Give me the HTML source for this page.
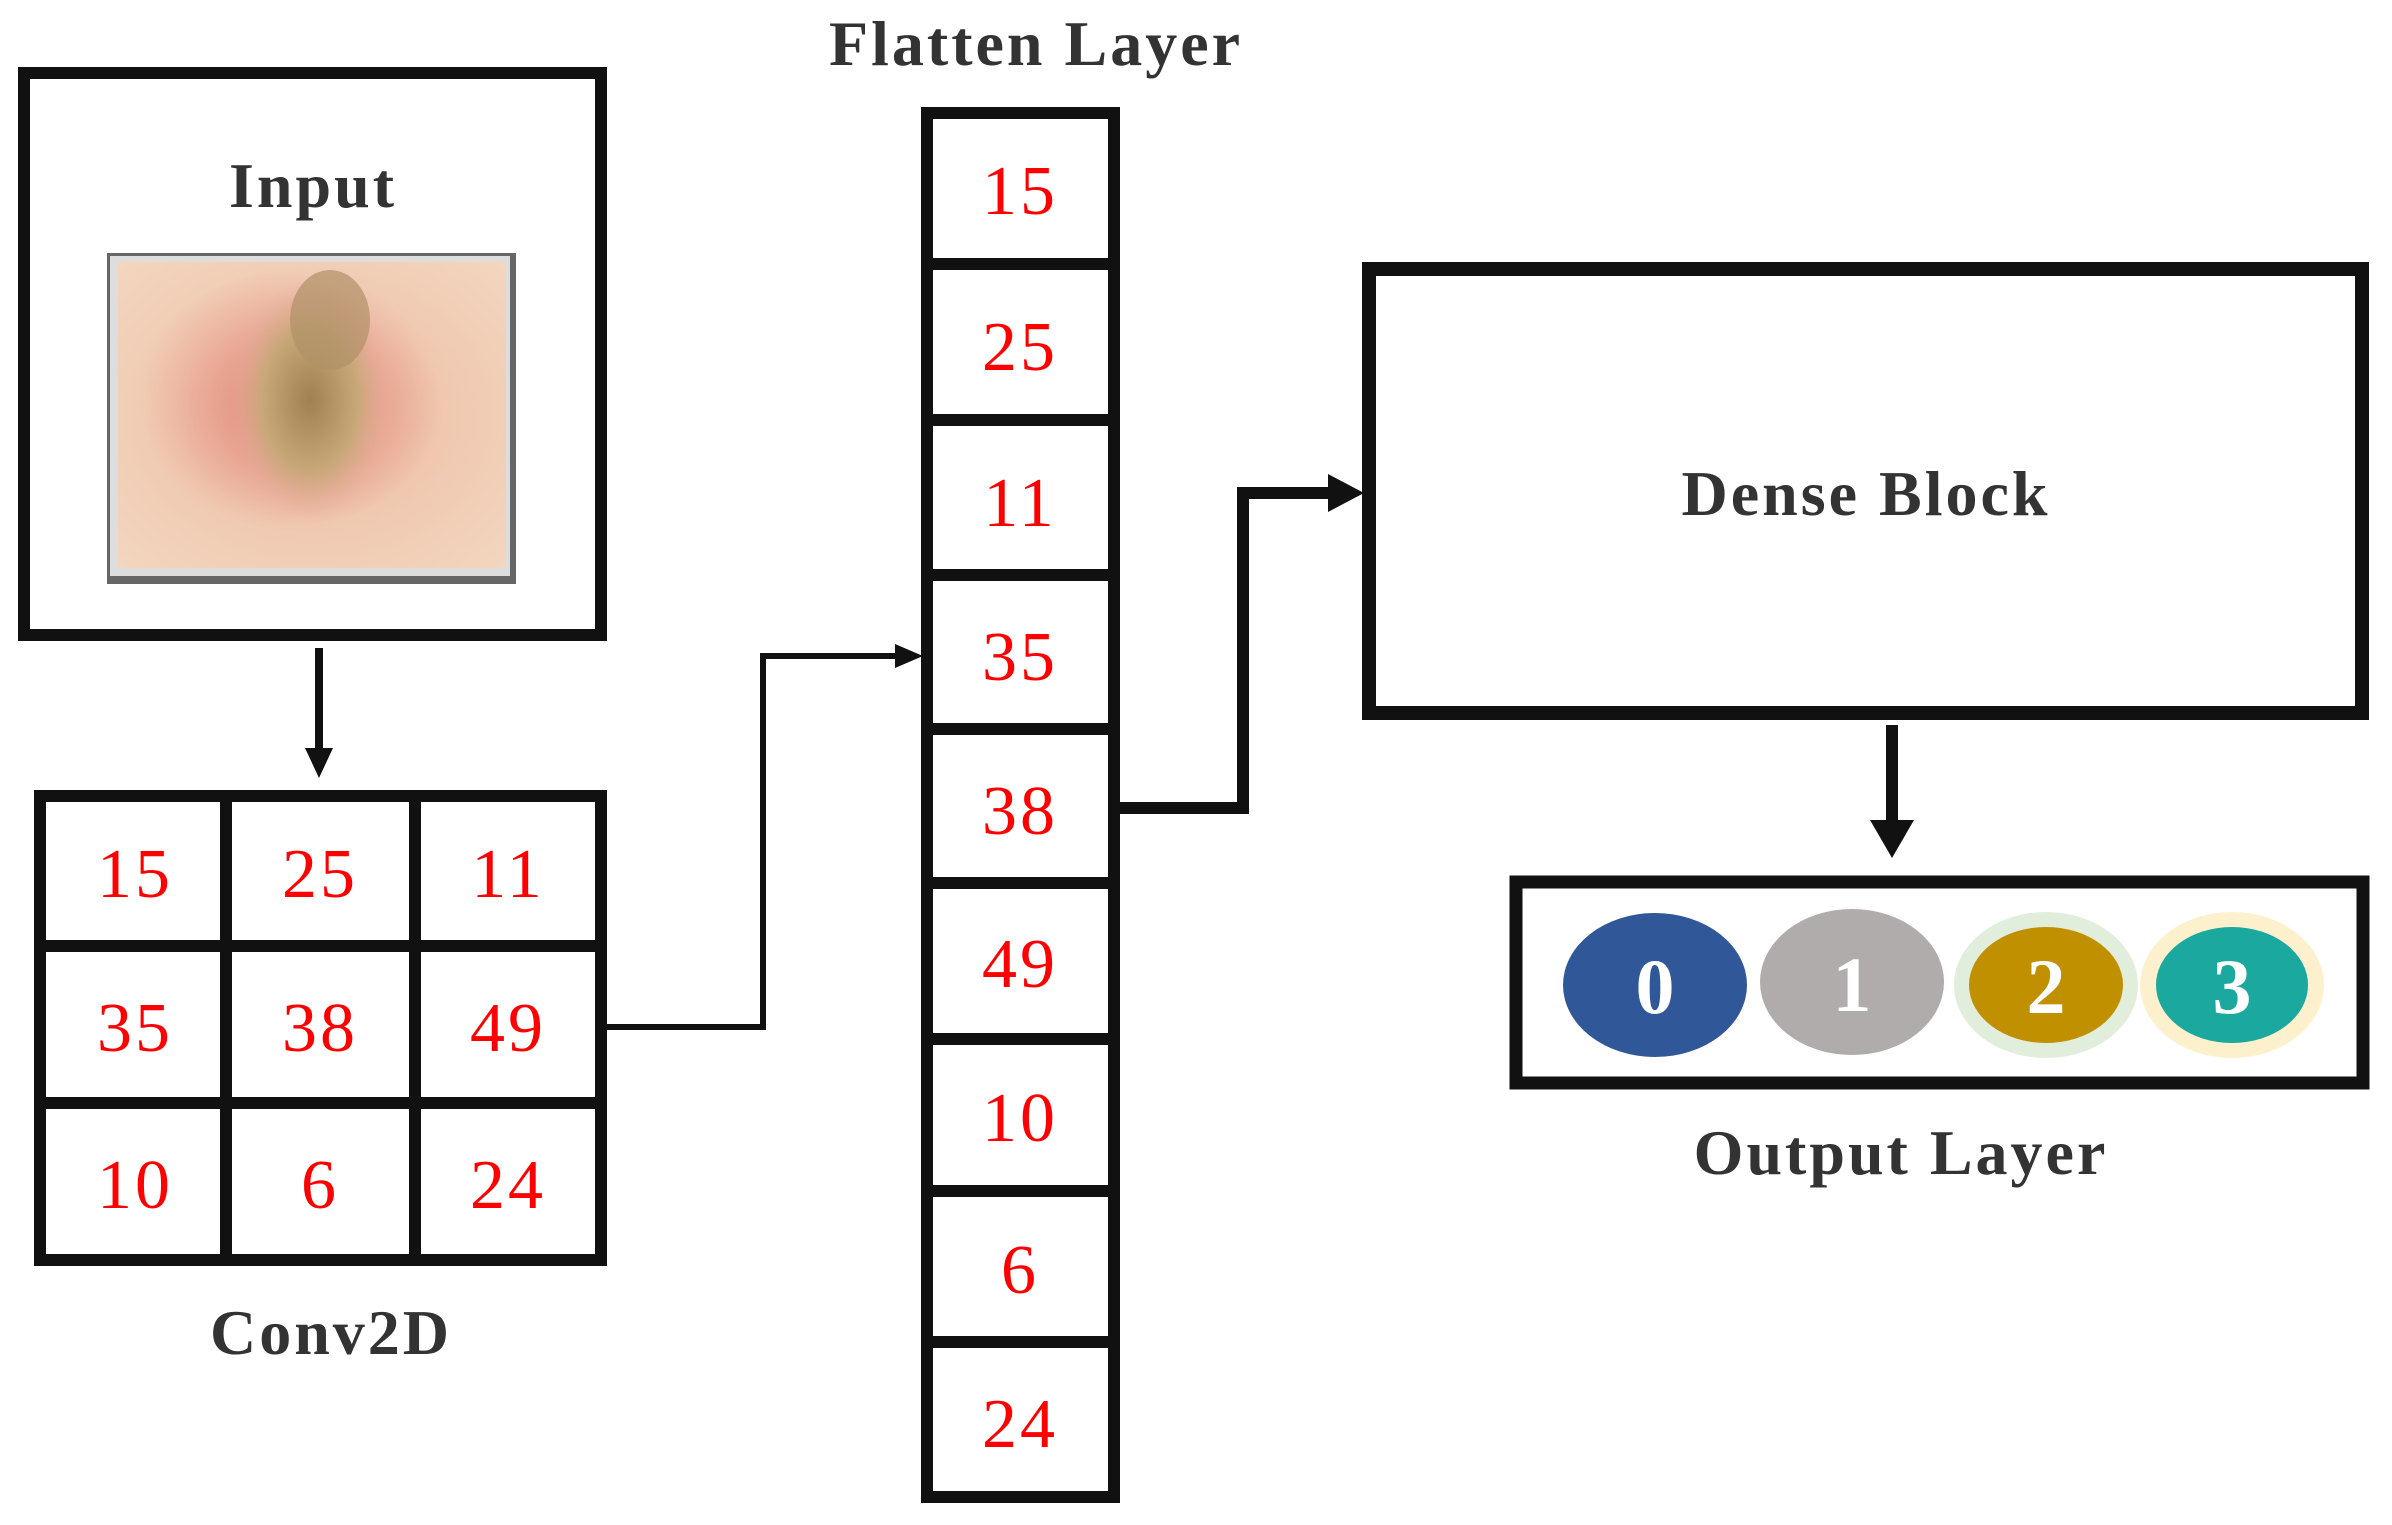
<!DOCTYPE html>
<html><head><meta charset="utf-8"><style>
html,body{margin:0;padding:0;background:#fff;}
svg{display:block;}
.lbl{font-family:"Liberation Serif",serif;font-weight:bold;fill:#333;letter-spacing:3px;}
.num{font-family:"Liberation Serif",serif;fill:#f00;font-size:70px;letter-spacing:3px;}
.dig{font-family:"Liberation Serif",serif;font-weight:bold;fill:#fff;font-size:78px;}
</style></head><body>
<svg width="2392" height="1525" viewBox="0 0 2392 1525" xmlns="http://www.w3.org/2000/svg">
<defs>
<radialGradient id="skin" cx="0.5" cy="0.5" r="0.7">
<stop offset="0" stop-color="#e8a890"/><stop offset="0.5" stop-color="#f0c8b0"/><stop offset="1" stop-color="#f3d6bf"/>
</radialGradient>
<radialGradient id="les" cx="0.5" cy="0.5" r="0.5">
<stop offset="0" stop-color="#a08050"/><stop offset="0.6" stop-color="#c8a878"/><stop offset="1" stop-color="#e8b0a0" stop-opacity="0"/>
</radialGradient>
<radialGradient id="red" cx="0.5" cy="0.5" r="0.5">
<stop offset="0" stop-color="#e07a70" stop-opacity="0.8"/><stop offset="1" stop-color="#e07a70" stop-opacity="0"/>
</radialGradient>
</defs>
<rect x="24" y="73" width="577" height="562" fill="none" stroke="#111" stroke-width="12"/>
<text class="lbl" x="313" y="207" font-size="64" text-anchor="middle">Input</text>
<rect x="107" y="253" width="409" height="331" fill="#666"/>
<rect x="110" y="256" width="400" height="320" fill="#ddd"/>
<rect x="118" y="262" width="388" height="306" fill="url(#skin)"/>
<ellipse cx="290" cy="400" rx="150" ry="130" fill="url(#red)"/>
<ellipse cx="310" cy="400" rx="80" ry="120" fill="url(#les)"/>
<ellipse cx="330" cy="320" rx="40" ry="50" fill="#b09068" opacity="0.7"/>
<line x1="319" y1="648" x2="319" y2="750" stroke="#111" stroke-width="8"/>
<polygon points="305,748 333,748 319,778" fill="#111"/>
<rect x="40" y="796" width="561" height="464" fill="none" stroke="#111" stroke-width="12"/>
<line x1="226" y1="796" x2="226" y2="1260" stroke="#111" stroke-width="12"/>
<line x1="415" y1="796" x2="415" y2="1260" stroke="#111" stroke-width="12"/>
<line x1="40" y1="946" x2="601" y2="946" stroke="#111" stroke-width="12"/>
<line x1="40" y1="1103" x2="601" y2="1103" stroke="#111" stroke-width="12"/>
<g class="num" text-anchor="middle">
<text x="135" y="897">15</text><text x="320" y="897">25</text><text x="508" y="897">11</text>
<text x="135" y="1051">35</text><text x="320" y="1051">38</text><text x="508" y="1051">49</text>
<text x="135" y="1208">10</text><text x="320" y="1208">6</text><text x="508" y="1208">24</text>
</g>
<text class="lbl" x="331" y="1354" font-size="64" text-anchor="middle">Conv2D</text>
<polyline points="607,1027 763,1027 763,656 900,656" fill="none" stroke="#111" stroke-width="6"/>
<polygon points="895,644 923,656 895,668" fill="#111"/>
<text class="lbl" x="1036" y="65" font-size="64" text-anchor="middle">Flatten Layer</text>
<rect x="927" y="113" width="187" height="1384" fill="none" stroke="#111" stroke-width="12"/>
<g stroke="#111" stroke-width="12">
<line x1="927" y1="264" x2="1114" y2="264"/><line x1="927" y1="420" x2="1114" y2="420"/>
<line x1="927" y1="575" x2="1114" y2="575"/><line x1="927" y1="729" x2="1114" y2="729"/>
<line x1="927" y1="883" x2="1114" y2="883"/><line x1="927" y1="1039" x2="1114" y2="1039"/>
<line x1="927" y1="1191" x2="1114" y2="1191"/><line x1="927" y1="1342" x2="1114" y2="1342"/>
</g>
<g class="num" text-anchor="middle">
<text x="1020" y="214">15</text><text x="1020" y="370">25</text><text x="1020" y="526">11</text>
<text x="1020" y="680">35</text><text x="1020" y="834">38</text><text x="1020" y="987">49</text>
<text x="1020" y="1141">10</text><text x="1020" y="1293">6</text><text x="1020" y="1447">24</text>
</g>
<polyline points="1120,808 1243,808 1243,493 1335,493" fill="none" stroke="#111" stroke-width="12"/>
<polygon points="1328,474 1364,493 1328,512" fill="#111"/>
<rect x="1369" y="269" width="993" height="444" fill="none" stroke="#111" stroke-width="14"/>
<text class="lbl" x="1866" y="515" font-size="64" text-anchor="middle">Dense Block</text>
<line x1="1892" y1="725" x2="1892" y2="825" stroke="#111" stroke-width="12"/>
<polygon points="1870,820 1914,820 1892,858" fill="#111"/>
<rect x="1516" y="882" width="847" height="201" fill="none" stroke="#111" stroke-width="13"/>
<ellipse cx="1655" cy="985" rx="92" ry="72" fill="#305898"/>
<ellipse cx="1852" cy="982" rx="92" ry="73" fill="#afacab"/>
<ellipse cx="2046" cy="985" rx="92" ry="73" fill="#e0eedb"/>
<ellipse cx="2046" cy="985" rx="77" ry="58" fill="#c09000"/>
<ellipse cx="2232" cy="985" rx="92" ry="73" fill="#fdf0cc"/>
<ellipse cx="2232" cy="985" rx="76" ry="58" fill="#1ba89e"/>
<g class="dig" text-anchor="middle">
<text x="1655" y="1013">0</text><text x="1852" y="1011">1</text><text x="2046" y="1013">2</text><text x="2232" y="1013">3</text>
</g>
<text class="lbl" x="1901" y="1174" font-size="64" text-anchor="middle">Output Layer</text>
</svg>
</body></html>
